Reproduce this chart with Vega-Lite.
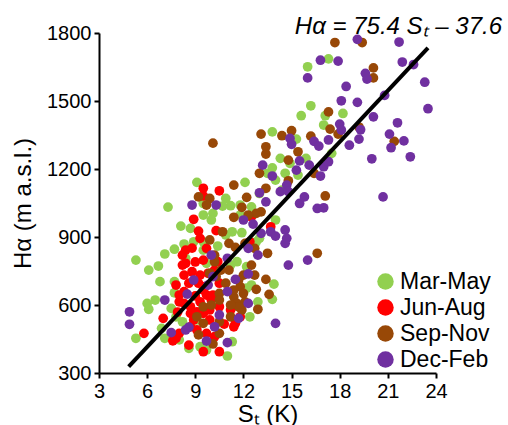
{
  "$schema": "https://vega.github.io/schema/vega-lite/v6.json",
  "width": 337,
  "height": 340,
  "autosize": "none",
  "padding": {"left": 99, "top": 33, "right": 72, "bottom": 52},
  "background": "white",
  "config": {"view": {"stroke": null}, "font": "Liberation Sans"},
  "title": {"text": "Hα = 75.4 Sₜ – 37.6", "anchor": "end", "frame": "group", "fontStyle": "italic", "fontWeight": "normal", "fontSize": 24, "font": "Liberation Sans", "dx": 66, "dy": 18, "offset": 2, "color": "black"},
  "datasets": {
    "pts": [
      {"s":"Mar-May","x":17.3,"y":1686},{"s":"Mar-May","x":16.0,"y":1651},{"s":"Mar-May","x":16.2,"y":1479},{"s":"Mar-May","x":15.6,"y":1435},
      {"s":"Mar-May","x":17.1,"y":1435},{"s":"Mar-May","x":18.2,"y":1445},{"s":"Mar-May","x":17.0,"y":1394},{"s":"Mar-May","x":13.8,"y":1364},
      {"s":"Mar-May","x":15.3,"y":1332},{"s":"Mar-May","x":17.5,"y":1269},{"s":"Mar-May","x":14.3,"y":1247},{"s":"Mar-May","x":14.9,"y":1225},
      {"s":"Mar-May","x":13.8,"y":1205},{"s":"Mar-May","x":14.6,"y":1181},{"s":"Mar-May","x":15.4,"y":1173},{"s":"Mar-May","x":15.9,"y":1247},
      {"s":"Mar-May","x":9.1,"y":1141},{"s":"Mar-May","x":12.1,"y":1141},{"s":"Mar-May","x":14.0,"y":1151},{"s":"Mar-May","x":13.0,"y":1092},
      {"s":"Mar-May","x":10.9,"y":1070},{"s":"Mar-May","x":11.2,"y":1038},{"s":"Mar-May","x":12.5,"y":1033},{"s":"Mar-May","x":9.5,"y":997},
      {"s":"Mar-May","x":11.8,"y":1041},{"s":"Mar-May","x":13.5,"y":1181},{"s":"Mar-May","x":10.7,"y":1036},{"s":"Mar-May","x":9.5,"y":1048},
      {"s":"Mar-May","x":10.1,"y":1004},{"s":"Mar-May","x":11.8,"y":997},{"s":"Mar-May","x":10.0,"y":975},{"s":"Mar-May","x":11.3,"y":923},
      {"s":"Mar-May","x":11.9,"y":919},{"s":"Mar-May","x":9.5,"y":879},{"s":"Mar-May","x":10.4,"y":860},{"s":"Mar-May","x":13.0,"y":894},
      {"s":"Mar-May","x":14.0,"y":975},{"s":"Mar-May","x":14.4,"y":1107},{"s":"Mar-May","x":12.8,"y":879},{"s":"Mar-May","x":13.9,"y":692},
      {"s":"Mar-May","x":12.9,"y":614},{"s":"Mar-May","x":13.8,"y":625},{"s":"Mar-May","x":12.5,"y":688},{"s":"Mar-May","x":12.4,"y":548},
      {"s":"Mar-May","x":11.0,"y":375},{"s":"Mar-May","x":11.3,"y":438},{"s":"Mar-May","x":9.7,"y":401},{"s":"Mar-May","x":7.1,"y":825},
      {"s":"Mar-May","x":7.7,"y":846},{"s":"Mar-May","x":8.3,"y":869},{"s":"Mar-May","x":8.9,"y":879},{"s":"Mar-May","x":9.5,"y":842},
      {"s":"Mar-May","x":10.9,"y":909},{"s":"Mar-May","x":6.8,"y":703},{"s":"Mar-May","x":7.7,"y":703},{"s":"Mar-May","x":6.5,"y":622},
      {"s":"Mar-May","x":7.5,"y":585},{"s":"Mar-May","x":7.8,"y":548},{"s":"Mar-May","x":8.2,"y":526},{"s":"Mar-May","x":9.7,"y":784},
      {"s":"Mar-May","x":11.2,"y":776},{"s":"Mar-May","x":11.6,"y":791},{"s":"Mar-May","x":12.2,"y":769},{"s":"Mar-May","x":12.2,"y":674},
      {"s":"Mar-May","x":6.0,"y":607},{"s":"Mar-May","x":6.1,"y":581},{"s":"Mar-May","x":7.7,"y":654},{"s":"Mar-May","x":5.3,"y":453},
      {"s":"Mar-May","x":6.9,"y":497},{"s":"Mar-May","x":7.1,"y":453},{"s":"Mar-May","x":8.0,"y":446},{"s":"Mar-May","x":8.6,"y":409},
      {"s":"Mar-May","x":9.3,"y":416},{"s":"Mar-May","x":6.1,"y":754},{"s":"Mar-May","x":9.1,"y":534},{"s":"Mar-May","x":8.1,"y":948},
      {"s":"Mar-May","x":8.7,"y":938},{"s":"Mar-May","x":5.3,"y":798},{"s":"Mar-May","x":6.7,"y":772},{"s":"Mar-May","x":8.4,"y":806},
      {"s":"Mar-May","x":7.3,"y":1032},
      {"s":"Jun-Aug","x":9.5,"y":1115},{"s":"Jun-Aug","x":10.5,"y":1104},{"s":"Jun-Aug","x":9.5,"y":1081},{"s":"Jun-Aug","x":8.9,"y":978},
      {"s":"Jun-Aug","x":12.5,"y":989},{"s":"Jun-Aug","x":10.3,"y":928},{"s":"Jun-Aug","x":9.3,"y":894},{"s":"Jun-Aug","x":12.4,"y":879},
      {"s":"Jun-Aug","x":9.5,"y":798},{"s":"Jun-Aug","x":13.7,"y":945},{"s":"Jun-Aug","x":9.2,"y":926},{"s":"Jun-Aug","x":8.4,"y":842},
      {"s":"Jun-Aug","x":8.2,"y":776},{"s":"Jun-Aug","x":9.7,"y":850},{"s":"Jun-Aug","x":8.2,"y":820},{"s":"Jun-Aug","x":8.4,"y":784},
      {"s":"Jun-Aug","x":8.3,"y":732},{"s":"Jun-Aug","x":8.8,"y":747},{"s":"Jun-Aug","x":8.6,"y":696},{"s":"Jun-Aug","x":8.3,"y":659},
      {"s":"Jun-Aug","x":9.2,"y":696},{"s":"Jun-Aug","x":8.0,"y":614},{"s":"Jun-Aug","x":8.7,"y":592},{"s":"Jun-Aug","x":9.3,"y":614},
      {"s":"Jun-Aug","x":9.5,"y":563},{"s":"Jun-Aug","x":8.9,"y":534},{"s":"Jun-Aug","x":9.9,"y":534},{"s":"Jun-Aug","x":9.7,"y":644},
      {"s":"Jun-Aug","x":7.0,"y":541},{"s":"Jun-Aug","x":8.7,"y":504},{"s":"Jun-Aug","x":10.4,"y":791},{"s":"Jun-Aug","x":10.2,"y":754},
      {"s":"Jun-Aug","x":10.5,"y":696},{"s":"Jun-Aug","x":11.5,"y":519},{"s":"Jun-Aug","x":11.8,"y":548},{"s":"Jun-Aug","x":9.1,"y":570},
      {"s":"Jun-Aug","x":9.8,"y":740},{"s":"Jun-Aug","x":9.5,"y":666},{"s":"Jun-Aug","x":5.8,"y":475},{"s":"Jun-Aug","x":7.6,"y":442},
      {"s":"Jun-Aug","x":8.0,"y":475},{"s":"Jun-Aug","x":8.6,"y":423},{"s":"Jun-Aug","x":8.0,"y":644},{"s":"Jun-Aug","x":8.3,"y":607},
      {"s":"Jun-Aug","x":8.7,"y":563},{"s":"Jun-Aug","x":9.1,"y":490},{"s":"Jun-Aug","x":7.8,"y":453},{"s":"Jun-Aug","x":9.5,"y":394},
      {"s":"Jun-Aug","x":9.7,"y":475},{"s":"Jun-Aug","x":9.6,"y":681},{"s":"Jun-Aug","x":10.1,"y":644},{"s":"Jun-Aug","x":9.9,"y":578},
      {"s":"Jun-Aug","x":10.5,"y":592},{"s":"Jun-Aug","x":10.2,"y":460},{"s":"Jun-Aug","x":11.2,"y":578},{"s":"Jun-Aug","x":11.4,"y":504},
      {"s":"Jun-Aug","x":10.5,"y":394},{"s":"Jun-Aug","x":9.3,"y":732},{"s":"Jun-Aug","x":9.0,"y":790},{"s":"Jun-Aug","x":10.0,"y":622},
      {"s":"Jun-Aug","x":7.9,"y":569},{"s":"Jun-Aug","x":9.0,"y":640},{"s":"Jun-Aug","x":10.8,"y":516},{"s":"Jun-Aug","x":7.8,"y":688},
      {"s":"Jun-Aug","x":8.8,"y":851},
      {"s":"Sep-Nov","x":17.7,"y":1758},{"s":"Sep-Nov","x":19.4,"y":1758},{"s":"Sep-Nov","x":20.1,"y":1646},{"s":"Sep-Nov","x":20.1,"y":1602},
      {"s":"Sep-Nov","x":17.3,"y":1452},{"s":"Sep-Nov","x":17.4,"y":1376},{"s":"Sep-Nov","x":17.9,"y":1354},{"s":"Sep-Nov","x":19.2,"y":1385},
      {"s":"Sep-Nov","x":21.4,"y":1322},{"s":"Sep-Nov","x":15.0,"y":1369},{"s":"Sep-Nov","x":14.4,"y":1347},{"s":"Sep-Nov","x":16.2,"y":1345},
      {"s":"Sep-Nov","x":13.4,"y":1298},{"s":"Sep-Nov","x":13.4,"y":1266},{"s":"Sep-Nov","x":13.1,"y":1354},{"s":"Sep-Nov","x":15.4,"y":1276},
      {"s":"Sep-Nov","x":14.8,"y":1239},{"s":"Sep-Nov","x":16.4,"y":1181},{"s":"Sep-Nov","x":10.1,"y":1314},{"s":"Sep-Nov","x":13.0,"y":1181},
      {"s":"Sep-Nov","x":11.4,"y":1129},{"s":"Sep-Nov","x":13.4,"y":1115},{"s":"Sep-Nov","x":12.2,"y":1075},{"s":"Sep-Nov","x":9.2,"y":1077},
      {"s":"Sep-Nov","x":9.9,"y":1070},{"s":"Sep-Nov","x":9.7,"y":1041},{"s":"Sep-Nov","x":11.9,"y":1031},{"s":"Sep-Nov","x":13.1,"y":1011},
      {"s":"Sep-Nov","x":12.8,"y":1004},{"s":"Sep-Nov","x":11.4,"y":987},{"s":"Sep-Nov","x":14.8,"y":1148},{"s":"Sep-Nov","x":12.3,"y":997},
      {"s":"Sep-Nov","x":10.7,"y":923},{"s":"Sep-Nov","x":9.9,"y":887},{"s":"Sep-Nov","x":11.1,"y":872},{"s":"Sep-Nov","x":11.5,"y":854},
      {"s":"Sep-Nov","x":12.1,"y":872},{"s":"Sep-Nov","x":12.5,"y":776},{"s":"Sep-Nov","x":10.2,"y":791},{"s":"Sep-Nov","x":12.7,"y":850},
      {"s":"Sep-Nov","x":13.5,"y":828},{"s":"Sep-Nov","x":17.1,"y":1081},{"s":"Sep-Nov","x":16.6,"y":828},{"s":"Sep-Nov","x":13.4,"y":713},
      {"s":"Sep-Nov","x":12.8,"y":669},{"s":"Sep-Nov","x":13.6,"y":647},{"s":"Sep-Nov","x":12.9,"y":581},{"s":"Sep-Nov","x":12.7,"y":732},
      {"s":"Sep-Nov","x":11.8,"y":681},{"s":"Sep-Nov","x":12.0,"y":651},{"s":"Sep-Nov","x":11.4,"y":636},{"s":"Sep-Nov","x":10.5,"y":651},
      {"s":"Sep-Nov","x":11.9,"y":578},{"s":"Sep-Nov","x":11.2,"y":548},{"s":"Sep-Nov","x":10.5,"y":526},{"s":"Sep-Nov","x":10.5,"y":475},
      {"s":"Sep-Nov","x":10.1,"y":428},{"s":"Sep-Nov","x":9.5,"y":519},{"s":"Sep-Nov","x":9.5,"y":592},{"s":"Sep-Nov","x":9.9,"y":740},
      {"s":"Sep-Nov","x":12.0,"y":732},{"s":"Sep-Nov","x":11.6,"y":607},{"s":"Sep-Nov","x":10.2,"y":820},{"s":"Sep-Nov","x":10.6,"y":754},
      {"s":"Sep-Nov","x":11.1,"y":754},{"s":"Sep-Nov","x":10.3,"y":725},{"s":"Sep-Nov","x":10.9,"y":696},{"s":"Sep-Nov","x":11.4,"y":666},
      {"s":"Sep-Nov","x":11.7,"y":710},{"s":"Sep-Nov","x":12.1,"y":614},{"s":"Sep-Nov","x":11.7,"y":592},{"s":"Sep-Nov","x":10.5,"y":622},
      {"s":"Sep-Nov","x":9.1,"y":548},{"s":"Sep-Nov","x":11.2,"y":600},{"s":"Sep-Nov","x":10.0,"y":600},{"s":"Sep-Nov","x":9.2,"y":468},
      {"s":"Dec-Feb","x":19.1,"y":1772},{"s":"Dec-Feb","x":21.7,"y":1760},{"s":"Dec-Feb","x":16.8,"y":1680},{"s":"Dec-Feb","x":17.9,"y":1676},
      {"s":"Dec-Feb","x":21.9,"y":1672},{"s":"Dec-Feb","x":22.6,"y":1661},{"s":"Dec-Feb","x":16.0,"y":1602},{"s":"Dec-Feb","x":19.6,"y":1622},
      {"s":"Dec-Feb","x":19.7,"y":1597},{"s":"Dec-Feb","x":18.4,"y":1564},{"s":"Dec-Feb","x":23.3,"y":1583},{"s":"Dec-Feb","x":20.8,"y":1525},
      {"s":"Dec-Feb","x":18.1,"y":1501},{"s":"Dec-Feb","x":19.1,"y":1494},{"s":"Dec-Feb","x":23.5,"y":1466},{"s":"Dec-Feb","x":20.1,"y":1430},
      {"s":"Dec-Feb","x":21.6,"y":1404},{"s":"Dec-Feb","x":18.0,"y":1398},{"s":"Dec-Feb","x":18.1,"y":1372},{"s":"Dec-Feb","x":19.3,"y":1373},
      {"s":"Dec-Feb","x":21.1,"y":1354},{"s":"Dec-Feb","x":19.2,"y":1332},{"s":"Dec-Feb","x":22.0,"y":1324},{"s":"Dec-Feb","x":17.3,"y":1328},
      {"s":"Dec-Feb","x":18.6,"y":1305},{"s":"Dec-Feb","x":21.2,"y":1294},{"s":"Dec-Feb","x":16.4,"y":1322},{"s":"Dec-Feb","x":16.7,"y":1301},
      {"s":"Dec-Feb","x":14.9,"y":1335},{"s":"Dec-Feb","x":15.0,"y":1309},{"s":"Dec-Feb","x":20.0,"y":1245},{"s":"Dec-Feb","x":22.4,"y":1254},
      {"s":"Dec-Feb","x":15.5,"y":1236},{"s":"Dec-Feb","x":16.1,"y":1217},{"s":"Dec-Feb","x":17.0,"y":1210},{"s":"Dec-Feb","x":17.3,"y":1232},
      {"s":"Dec-Feb","x":13.2,"y":1217},{"s":"Dec-Feb","x":13.8,"y":1169},{"s":"Dec-Feb","x":15.3,"y":1195},{"s":"Dec-Feb","x":16.8,"y":1169},
      {"s":"Dec-Feb","x":13.0,"y":1095},{"s":"Dec-Feb","x":14.3,"y":1100},{"s":"Dec-Feb","x":14.7,"y":1129},{"s":"Dec-Feb","x":13.4,"y":1055},
      {"s":"Dec-Feb","x":8.8,"y":1041},{"s":"Dec-Feb","x":10.3,"y":1041},{"s":"Dec-Feb","x":12.0,"y":975},{"s":"Dec-Feb","x":14.8,"y":1100},
      {"s":"Dec-Feb","x":15.5,"y":1048},{"s":"Dec-Feb","x":15.8,"y":1077},{"s":"Dec-Feb","x":12.6,"y":957},{"s":"Dec-Feb","x":13.1,"y":916},
      {"s":"Dec-Feb","x":13.7,"y":923},{"s":"Dec-Feb","x":14.0,"y":904},{"s":"Dec-Feb","x":14.6,"y":931},{"s":"Dec-Feb","x":14.7,"y":894},
      {"s":"Dec-Feb","x":12.3,"y":850},{"s":"Dec-Feb","x":12.9,"y":820},{"s":"Dec-Feb","x":10.0,"y":820},{"s":"Dec-Feb","x":11.0,"y":806},
      {"s":"Dec-Feb","x":14.8,"y":776},{"s":"Dec-Feb","x":16.0,"y":798},{"s":"Dec-Feb","x":16.6,"y":1026},{"s":"Dec-Feb","x":17.0,"y":1029},
      {"s":"Dec-Feb","x":14.6,"y":872},{"s":"Dec-Feb","x":14.0,"y":519},{"s":"Dec-Feb","x":20.7,"y":1077},{"s":"Dec-Feb","x":12.3,"y":737},
      {"s":"Dec-Feb","x":11.5,"y":713},{"s":"Dec-Feb","x":11.0,"y":659},{"s":"Dec-Feb","x":10.1,"y":725},{"s":"Dec-Feb","x":12.3,"y":607},
      {"s":"Dec-Feb","x":10.5,"y":556},{"s":"Dec-Feb","x":11.7,"y":541},{"s":"Dec-Feb","x":9.7,"y":441},{"s":"Dec-Feb","x":11.0,"y":434},
      {"s":"Dec-Feb","x":8.9,"y":710},{"s":"Dec-Feb","x":8.5,"y":648},{"s":"Dec-Feb","x":7.1,"y":622},{"s":"Dec-Feb","x":9.8,"y":688},
      {"s":"Dec-Feb","x":8.6,"y":502},{"s":"Dec-Feb","x":10.2,"y":504},{"s":"Dec-Feb","x":4.9,"y":570},{"s":"Dec-Feb","x":4.9,"y":515},
      {"s":"Dec-Feb","x":7.5,"y":478},{"s":"Dec-Feb","x":8.4,"y":490}
    ],
    "fit": [{"x": 4.85, "y": 328}, {"x": 23.5, "y": 1734}]
  },
  "layer": [
    {
      "data": {"name": "pts"},
      "mark": {"type": "circle", "size": 95, "opacity": 1},
      "encoding": {
        "x": {"field": "x", "type": "quantitative",
          "scale": {"domain": [3, 24], "nice": false, "zero": false},
          "axis": {"values": [3, 6, 9, 12, 15, 18, 21, 24], "format": "d", "title": "Sₜ (K)", "titleFontSize": 24, "titleFontWeight": "normal", "titleColor": "black", "titlePadding": 1,
            "domainColor": "black", "domainWidth": 2, "tickColor": "black", "tickWidth": 2, "tickSize": 5,
            "labelFontSize": 20, "labelColor": "black", "labelPadding": 3, "grid": false, "labelFlush": false, "labelOverlap": false}},
        "y": {"field": "y", "type": "quantitative",
          "scale": {"domain": [300, 1800], "nice": false, "zero": false},
          "axis": {"values": [300, 600, 900, 1200, 1500, 1800], "format": "d", "title": "Hα (m a.s.l.)", "titleFontSize": 24, "titleFontWeight": "normal", "titleColor": "black", "titlePadding": 11,
            "domainColor": "black", "domainWidth": 2, "tickColor": "black", "tickWidth": 2, "tickSize": 5,
            "labelFontSize": 20, "labelColor": "black", "labelPadding": 3, "grid": false, "labelFlush": false, "labelOverlap": false}},
        "color": {"field": "s", "type": "nominal",
          "scale": {"domain": ["Mar-May", "Jun-Aug", "Sep-Nov", "Dec-Feb"], "range": ["#92D050", "#FF0000", "#984807", "#7030A0"]},
          "legend": {"orient": "none", "legendX": 275, "legendY": 237, "title": null, "symbolType": "circle", "symbolSize": 270, "symbolStrokeWidth": 0, "symbolOpacity": 1,
            "labelFontSize": 23, "labelFont": "Liberation Sans", "labelColor": "black", "rowPadding": 2, "labelOffset": 3}}
      }
    },
    {
      "data": {"name": "fit"},
      "mark": {"type": "line", "color": "black", "strokeWidth": 4},
      "encoding": {"x": {"field": "x", "type": "quantitative"}, "y": {"field": "y", "type": "quantitative"}}
    }
  ]
}
